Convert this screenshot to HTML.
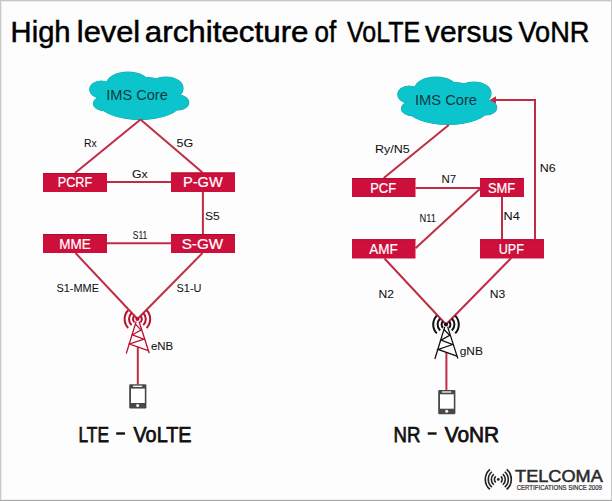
<!DOCTYPE html>
<html><head><meta charset="utf-8">
<style>
html,body{margin:0;padding:0;background:#fff;}
body{width:612px;height:501px;overflow:hidden;position:relative;}
svg{position:absolute;left:0;top:0;display:block;}
text{font-family:"Liberation Sans",sans-serif;}
</style></head><body>
<svg width="612" height="501" viewBox="0 0 612 501">
<defs>
<g id="cloud" fill="#0cc5cc">
  <ellipse cx="128" cy="84.5" rx="21.5" ry="12.3"/>
  <ellipse cx="166" cy="88.5" rx="17" ry="11.5"/>
  <ellipse cx="101.3" cy="89.5" rx="11.5" ry="8.5"/>
  <ellipse cx="106" cy="103.5" rx="12.5" ry="7.5"/>
  <ellipse cx="178" cy="102.5" rx="10.7" ry="7.5"/>
  <ellipse cx="140" cy="103.5" rx="40" ry="16"/>
  <ellipse cx="140" cy="95" rx="35" ry="15"/>
  <ellipse cx="148" cy="83" rx="12" ry="5.5"/>
</g>
<g id="tower">
  <g stroke="currentColor" stroke-width="1.3" fill="none" stroke-linecap="round">
    <path d="M136 322 L126.4 353.1 M139.2 322 L149.1 352.7"/>
    <path d="M135.6 324.4 L141.1 330 L132.4 334.8 L143.9 339.1 L129.6 344 L148.3 350.7"/>
  </g>
  <g stroke="currentColor" stroke-width="2.0" fill="none">
    <path d="M134.46 315.83 A4.4 4.4 0 0 0 134.46 322.37"/>
    <path d="M140.34 315.83 A4.4 4.4 0 0 1 140.34 322.37"/>
    <path d="M131.56 313.06 A8.4 8.4 0 0 0 131.56 325.14"/>
    <path d="M143.24 313.06 A8.4 8.4 0 0 1 143.24 325.14"/>
    <path d="M128.19 310.21 A12.8 12.8 0 0 0 128.19 327.99"/>
    <path d="M146.61 310.21 A12.8 12.8 0 0 1 146.61 327.99"/>
  </g>
  <circle cx="137.4" cy="319.1" r="2" fill="currentColor"/>
</g>
<g id="phone">
  <rect x="129.2" y="384.2" width="17.2" height="24.3" rx="1.2" fill="#484848"/>
  <rect x="131" y="388.6" width="13.8" height="14.4" fill="#fff"/>
  <rect x="133" y="385.6" width="9.2" height="1.4" fill="#fff" opacity="0.9"/>
  <circle cx="137.7" cy="405.6" r="1.5" fill="#fff"/>
</g>
</defs>
<rect x="0" y="0" width="612" height="501" fill="#fdfdfd"/>
<rect x="1" y="1" width="610" height="1" fill="#ececec"/>
<rect x="1" y="1" width="1" height="499" fill="#ececec"/>
<rect x="1" y="499" width="610" height="1" fill="#f0f0f0"/>
<rect x="0" y="0" width="612" height="1" fill="#c6c6c6"/>
<rect x="0" y="0" width="1" height="501" fill="#c8c8c8"/>
<rect x="611" y="0" width="1" height="501" fill="#c8c8c8"/>
<rect x="0" y="500" width="612" height="1" fill="#a9a9a9"/>

<g stroke="#000" stroke-width="0.5">
<text x="10.6" y="41.8" font-size="29.2" fill="#000" textLength="60.0" lengthAdjust="spacingAndGlyphs" >High</text>
<text x="76.8" y="41.8" font-size="29.2" fill="#000" textLength="63.4" lengthAdjust="spacingAndGlyphs" >level</text>
<text x="144.8" y="41.8" font-size="29.2" fill="#000" textLength="163.7" lengthAdjust="spacingAndGlyphs" >architecture</text>
<text x="314.6" y="41.8" font-size="29.2" fill="#000" textLength="21.7" lengthAdjust="spacingAndGlyphs" >of</text>
<text x="347" y="41.8" font-size="29.2" fill="#000" textLength="73.2" lengthAdjust="spacingAndGlyphs" >VoLTE</text>
<text x="425" y="41.8" font-size="29.2" fill="#000" textLength="88" lengthAdjust="spacingAndGlyphs" >versus</text>
<text x="518.4" y="41.8" font-size="29.2" fill="#000" textLength="71.0" lengthAdjust="spacingAndGlyphs" >VoNR</text>
</g>
<use href="#cloud" stroke="#18aab2" stroke-width="1.2"/>
<use href="#cloud" transform="translate(308,5)" stroke="#18aab2" stroke-width="1.2"/>
<use href="#cloud"/>
<use href="#cloud" transform="translate(308,5)"/>
<text x="106.3" y="100" font-size="15.3" fill="#0f3a3f" textLength="61.5" lengthAdjust="spacingAndGlyphs" >IMS Core</text>
<text x="415" y="105.3" font-size="15.3" fill="#0f3a3f" textLength="62" lengthAdjust="spacingAndGlyphs" >IMS Core</text>
<g stroke="#c02c44" stroke-width="2.0" fill="none">
<line x1="140.5" y1="119.5" x2="75" y2="173"/>
<line x1="140.5" y1="119.5" x2="202.5" y2="172.5"/>
<line x1="107" y1="182" x2="171" y2="182"/>
<line x1="202.9" y1="192" x2="202.9" y2="234"/>
<line x1="107" y1="243.3" x2="171" y2="243.3"/>
<line x1="75.5" y1="253" x2="137.5" y2="319"/>
<line x1="202.5" y1="253" x2="137.5" y2="319"/>
<line x1="137.8" y1="347" x2="137.8" y2="384.5"/>
<line x1="448.75" y1="125" x2="383.75" y2="178"/>
<line x1="415.5" y1="188" x2="480" y2="188"/>
<line x1="480" y1="188.8" x2="415.5" y2="248.2"/>
<line x1="502" y1="197" x2="502" y2="239"/>
<line x1="384.5" y1="258.5" x2="446" y2="324.5"/>
<line x1="511.25" y1="258" x2="446" y2="324.5"/>
<line x1="446.4" y1="352" x2="446.4" y2="390.2"/>
<polyline points="535,239 535,100 492,100"/>
</g>
<path d="M489.5 99.9 L496 96.3 L496 103.5 Z" fill="#c02c44"/>
<g fill="#cd0f3b">
<rect x="43" y="173" width="64" height="19"/>
<rect x="43" y="173" width="64" height="0.9" fill="#b00a2c"/>
<rect x="171" y="172.5" width="64" height="19.5"/>
<rect x="171" y="172.5" width="64" height="0.9" fill="#b00a2c"/>
<rect x="43" y="234" width="64" height="19"/>
<rect x="43" y="234" width="64" height="0.9" fill="#b00a2c"/>
<rect x="171" y="234" width="64" height="19"/>
<rect x="171" y="234" width="64" height="0.9" fill="#b00a2c"/>
<rect x="352" y="178" width="63.5" height="19"/>
<rect x="352" y="178" width="63.5" height="0.9" fill="#b00a2c"/>
<rect x="480" y="178" width="44" height="19"/>
<rect x="480" y="178" width="44" height="0.9" fill="#b00a2c"/>
<rect x="352" y="239.25" width="63.5" height="19.25"/>
<rect x="352" y="239.25" width="63.5" height="0.9" fill="#b00a2c"/>
<rect x="480" y="239.25" width="64" height="19.25"/>
<rect x="480" y="239.25" width="64" height="0.9" fill="#b00a2c"/>
</g>
<g stroke="#fff" stroke-width="0.2">
<text x="57.800000000000004" y="187" font-size="13.8" fill="#fff" textLength="34.4" lengthAdjust="spacingAndGlyphs" >PCRF</text>
<text x="182.95" y="187" font-size="13.8" fill="#fff" textLength="39.75" lengthAdjust="spacingAndGlyphs" >P-GW</text>
<text x="59.2" y="248.75" font-size="13.8" fill="#fff" textLength="31.5" lengthAdjust="spacingAndGlyphs" >MME</text>
<text x="181.7" y="248.75" font-size="13.8" fill="#fff" textLength="41.5" lengthAdjust="spacingAndGlyphs" >S-GW</text>
<text x="370.2" y="192.5" font-size="13.8" fill="#fff" textLength="26.0" lengthAdjust="spacingAndGlyphs" >PCF</text>
<text x="487.95" y="192.5" font-size="13.8" fill="#fff" textLength="27.25" lengthAdjust="spacingAndGlyphs" >SMF</text>
<text x="369.2" y="253.75" font-size="13.8" fill="#fff" textLength="28.5" lengthAdjust="spacingAndGlyphs" >AMF</text>
<text x="498.7" y="253.75" font-size="13.8" fill="#fff" textLength="25.25" lengthAdjust="spacingAndGlyphs" >UPF</text>
</g>
<text x="84" y="146.7" font-size="11.2" fill="#111" textLength="12.7" lengthAdjust="spacingAndGlyphs" stroke="#111" stroke-width="0.05">Rx</text>
<text x="176.5" y="146.7" font-size="11.2" fill="#111" textLength="16.7" lengthAdjust="spacingAndGlyphs" stroke="#111" stroke-width="0.05">5G</text>
<text x="132" y="177.7" font-size="11.2" fill="#111" textLength="15.7" lengthAdjust="spacingAndGlyphs" stroke="#111" stroke-width="0.05">Gx</text>
<text x="205" y="219.7" font-size="11.2" fill="#111" textLength="14.7" lengthAdjust="spacingAndGlyphs" stroke="#111" stroke-width="0.05">S5</text>
<text x="132.75" y="238.7" font-size="11.2" fill="#111" textLength="14.45" lengthAdjust="spacingAndGlyphs" stroke="#111" stroke-width="0.05">S11</text>
<text x="56.5" y="292.2" font-size="11.2" fill="#111" textLength="42.45" lengthAdjust="spacingAndGlyphs" stroke="#111" stroke-width="0.05">S1-MME</text>
<text x="176.5" y="291.7" font-size="11.2" fill="#111" textLength="24.95" lengthAdjust="spacingAndGlyphs" stroke="#111" stroke-width="0.05">S1-U</text>
<text x="151" y="350.0" font-size="11.2" fill="#111" textLength="22.2" lengthAdjust="spacingAndGlyphs" stroke="#111" stroke-width="0.05">eNB</text>
<text x="375" y="153.45" font-size="11.2" fill="#111" textLength="34.7" lengthAdjust="spacingAndGlyphs" stroke="#111" stroke-width="0.05">Ry/N5</text>
<text x="441.5" y="183.45" font-size="11.2" fill="#111" textLength="14.7" lengthAdjust="spacingAndGlyphs" stroke="#111" stroke-width="0.05">N7</text>
<text x="419.5" y="222.2" font-size="11.2" fill="#111" textLength="16.45" lengthAdjust="spacingAndGlyphs" stroke="#111" stroke-width="0.05">N11</text>
<text x="503.5" y="219.7" font-size="11.2" fill="#111" textLength="16.2" lengthAdjust="spacingAndGlyphs" stroke="#111" stroke-width="0.05">N4</text>
<text x="539.75" y="172.2" font-size="11.2" fill="#111" textLength="15.95" lengthAdjust="spacingAndGlyphs" stroke="#111" stroke-width="0.05">N6</text>
<text x="378.5" y="297.7" font-size="11.2" fill="#111" textLength="15.45" lengthAdjust="spacingAndGlyphs" stroke="#111" stroke-width="0.05">N2</text>
<text x="489.75" y="297.7" font-size="11.2" fill="#111" textLength="15.45" lengthAdjust="spacingAndGlyphs" stroke="#111" stroke-width="0.05">N3</text>
<text x="459.7" y="355.0" font-size="11.2" fill="#111" textLength="23.2" lengthAdjust="spacingAndGlyphs" stroke="#111" stroke-width="0.05">gNB</text>
<use href="#tower" color="#b80f2c"/>
<use href="#tower" color="#111" transform="translate(308.6,5.4)"/>
<use href="#phone"/>
<use href="#phone" transform="translate(309,5.7)"/>
<text x="78.5" y="441.6" font-size="21.8" fill="#111" textLength="30.4" lengthAdjust="spacingAndGlyphs" stroke="#111" stroke-width="0.75">LTE</text>
<text x="133.5" y="441.6" font-size="21.8" fill="#111" textLength="58.0" lengthAdjust="spacingAndGlyphs" stroke="#111" stroke-width="0.75">VoLTE</text>
<text x="393.5" y="441.6" font-size="21.8" fill="#111" textLength="26.9" lengthAdjust="spacingAndGlyphs" stroke="#111" stroke-width="0.75">NR</text>
<text x="444.7" y="441.6" font-size="21.8" fill="#111" textLength="54.5" lengthAdjust="spacingAndGlyphs" stroke="#111" stroke-width="0.75">VoNR</text>
<rect x="116.2" y="432.3" width="8.8" height="2.4" fill="#111"/>
<rect x="427.7" y="432.3" width="8.9" height="2.4" fill="#111"/>
<g stroke="#222" stroke-width="1.6" fill="none">
<path d="M495.79 476.41 A3.9 3.9 0 0 0 495.79 482.39"/>
<path d="M500.81 476.41 A3.9 3.9 0 0 1 500.81 482.39"/>
<path d="M493.80 474.04 A7 7 0 0 0 493.80 484.76"/>
<path d="M502.80 474.04 A7 7 0 0 1 502.80 484.76"/>
<path d="M491.87 471.74 A10 10 0 0 0 491.87 487.06"/>
<path d="M504.73 471.74 A10 10 0 0 1 504.73 487.06"/>
<path d="M489.94 469.44 A13 13 0 0 0 489.94 489.36"/>
<path d="M506.66 469.44 A13 13 0 0 1 506.66 489.36"/>
</g>
<circle cx="498.3" cy="479.4" r="1.4" fill="#222"/>
<text x="515.1" y="481.5" font-size="17.0" fill="#2a2a2a" textLength="87.7" lengthAdjust="spacingAndGlyphs" stroke="#2a2a2a" stroke-width="0.5">TELCOMA</text>
<text x="516.7" y="490.2" font-size="7.3" fill="#2a2a2a" textLength="85.3" lengthAdjust="spacingAndGlyphs" stroke="#2a2a2a" stroke-width="0.2">CERTIFICATIONS SINCE 2009</text>
</svg>
</body></html>
